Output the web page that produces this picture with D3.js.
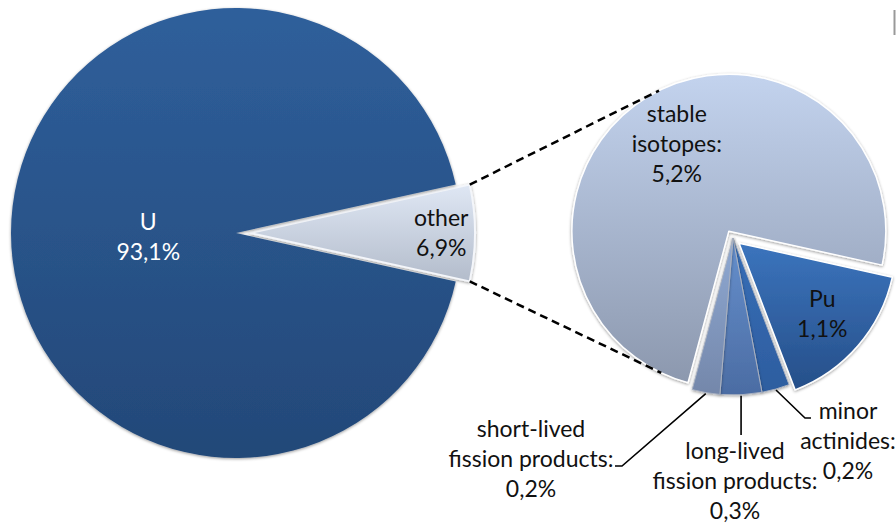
<!DOCTYPE html>
<meta charset="utf-8">
<style>
  body { margin: 0; background: #fff; }
  svg text { font-family: Lato, "Open Sans", sans-serif; font-size: 23px; }
</style>
<body>
<div id="chart"></div>
<script src="https://cdnjs.cloudflare.com/ajax/libs/d3/7.8.5/d3.min.js"></script>
<script>
// ——— data ———
const mainNames  = ["other", "U"];
const mainValues = [6.9, 93.1];
const mainLines  = [["other"], ["U"]];

const subNames  = ["Pu", "minor actinides", "long-lived fission products", "short-lived fission products", "stable isotopes"];
const subValues = [1.1, 0.2, 0.3, 0.2, 5.2];
const subLines  = [["Pu"], ["minor", "actinides:"], ["long-lived", "fission products:"], ["short-lived", "fission products:"], ["stable", "isotopes:"]];

// gradient colours (top, bottom) per slice
const mainColors = [["#dfe7f4", "#b3bccb"], ["#2f5f9b", "#234878"]];
const subColors  = [["#3b74bd", "#264f89"], ["#386fb8", "#2d5d9f"], ["#6690cd", "#4b6ca3"], ["#8fa9d3", "#7487aa"], ["#c3d3ee", "#8c98ae"]];

// ——— layout ———
const W = 896, H = 523;
const main = { cx: 236, cy: 233, r: 225, explode: 14 };
const sub  = { cx: 733, cy: 238, r: 157, explode: 8, start: 102.5 * Math.PI / 180 };
const lineH = 30;

// inner labels: fraction of radius along bisector
const innerLabel = {
  "U":               { f: 0.39, dy: 4,  color: "#fff" },
  "other":           { f: 0.85, dy: 0,  color: "#111" },
  "Pu":              { f: 0.70, dy: 0,  color: "#111" },
  "stable isotopes": { f: 0.64, dy: 0,  color: "#111" }
};
// outside labels: leader elbow / end, text centre x and first baseline
const outerLabel = {
  "short-lived fission products": { elbow: [622, 466], end: [615, 466], tx: 531, ty: 437 },
  "long-lived fission products":  { elbow: null, endY: 435, tx: 735, ty: 459 },
  "minor actinides":              { elbow: [805, 418], end: [811, 418], tx: 848, ty: 419 }
};

const locale = d3.formatLocale({ decimal: ",", thousands: ".", grouping: [3], currency: ["", "€"] });
const pct = v => locale.format(".1f")(v) + "%";

const svg = d3.select("#chart").append("svg")
    .attr("width", W)
    .attr("height", H);

const defs = svg.append("defs");
defs.append("filter")
    .attr("id", "shadow")
    .attr("filterUnits", "userSpaceOnUse")
    .attr("x", -W).attr("y", -H).attr("width", 3 * W).attr("height", 3 * H)
  .append("feDropShadow")
    .attr("dx", 0).attr("dy", 1)
    .attr("stdDeviation", 1.6)
    .attr("flood-color", "#000")
    .attr("flood-opacity", 0.4);

function gradient(id, c) {
  const g = defs.append("linearGradient")
      .attr("id", id)
      .attr("x1", 0).attr("y1", 0).attr("x2", 0).attr("y2", 1);
  g.append("stop").attr("offset", "0%").attr("stop-color", c[0]);
  g.append("stop").attr("offset", "100%").attr("stop-color", c[1]);
}
mainColors.forEach((c, i) => gradient("gm" + i, c));
subColors.forEach((c, i) => gradient("gs" + i, c));

// ——— primary pie ———
const otherSpan = mainValues[0] / d3.sum(mainValues) * 2 * Math.PI;
const pieMain = d3.pie().sort(null).value(d => d)
    .startAngle(Math.PI / 2 - otherSpan / 2)
    .endAngle(Math.PI / 2 - otherSpan / 2 + 2 * Math.PI);
const arcsMain = pieMain(mainValues);
const arcMain = d3.arc().innerRadius(0).outerRadius(main.r);

const mid = a => (a.startAngle + a.endAngle) / 2;
const polar = (cx, cy, r, ang) => [cx + r * Math.sin(ang), cy - r * Math.cos(ang)];

// slice centre after exploding
const centreMain = (a, i) => i === 0 ? polar(main.cx, main.cy, main.explode, mid(a)) : [main.cx, main.cy];

const gMain = svg.append("g");
gMain.selectAll("path")
  .data(arcsMain)
  .join("path")
    .attr("transform", (a, i) => `translate(${centreMain(a, i)})`)
    .attr("d", arcMain)
    .attr("fill", (a, i) => `url(#gm${i})`)
    .attr("stroke", (a, i) => i === 0 ? "#f4f6fa" : "none")
    .attr("stroke-width", 2)
    .attr("filter", "url(#shadow)");

// ——— secondary pie ———
const pieSub = d3.pie().sort(null).value(d => d)
    .startAngle(sub.start)
    .endAngle(sub.start + 2 * Math.PI);
const arcsSub = pieSub(subValues);
const arcSub = d3.arc().innerRadius(0).outerRadius(sub.r);
const explodedSub = [0, 4];
const centreSub = (a, i) => explodedSub.includes(i) ? polar(sub.cx, sub.cy, sub.explode, mid(a)) : [sub.cx, sub.cy];

const gSub = svg.append("g");
gSub.selectAll("path")
  .data(arcsSub)
  .join("path")
    .attr("transform", (a, i) => `translate(${centreSub(a, i)})`)
    .attr("d", arcSub)
    .attr("fill", (a, i) => `url(#gs${i})`)
    .attr("stroke", (a, i) => explodedSub.includes(i) ? "#fff" : "#a9b1c0")
    .attr("stroke-width", (a, i) => explodedSub.includes(i) ? 1.5 : 1)
    .attr("stroke-linejoin", "round")
    .attr("filter", "url(#shadow)");

// ——— connector lines (tangent to the stable-isotopes circle) ———
const oc = centreMain(arcsMain[0], 0);
const cornerTop = polar(oc[0], oc[1], main.r, arcsMain[0].startAngle);
const cornerBot = polar(oc[0], oc[1], main.r, arcsMain[0].endAngle);
const sc = centreSub(arcsSub[4], 4);

function tangent(p, c, r, upper) {
  const dx = p[0] - c[0], dy = p[1] - c[1];
  const d = Math.hypot(dx, dy);
  const phi = Math.atan2(dy, dx);
  const a = Math.acos(r / d);
  const cands = [phi + a, phi - a].map(t => [c[0] + r * Math.cos(t), c[1] + r * Math.sin(t)]);
  cands.sort((m, n) => m[1] - n[1]);
  return upper ? cands[0] : cands[1];
}
[[cornerTop, true], [cornerBot, false]].forEach(([p, up]) => {
  const t = tangent(p, sc, sub.r, up);
  svg.append("line")
      .attr("x1", p[0]).attr("y1", p[1])
      .attr("x2", t[0]).attr("y2", t[1])
      .attr("stroke", "#000")
      .attr("stroke-width", 2.5)
      .attr("stroke-dasharray", "8,5");
});

// ——— labels ———
function block(x, y, lines, color) {
  const t = svg.append("text")
      .attr("text-anchor", "middle")
      .attr("fill", color);
  lines.forEach((s, k) => {
    t.append("tspan").attr("x", x).attr("y", y + k * lineH).text(s);
  });
}

arcsMain.forEach((a, i) => {
  const L = innerLabel[mainNames[i]];
  const c = centreMain(a, i);
  const p = polar(c[0], c[1], L.f * main.r, mid(a));
  const lines = mainLines[i].concat(pct(mainValues[i]));
  block(p[0], p[1] - (lines.length - 1) * lineH / 2 + 8 + L.dy, lines, L.color);
});

arcsSub.forEach((a, i) => {
  const name = subNames[i];
  const lines = subLines[i].concat(pct(subValues[i]));
  if (innerLabel[name]) {
    const L = innerLabel[name];
    const c = centreSub(a, i);
    const p = polar(c[0], c[1], L.f * sub.r, mid(a));
    block(p[0], p[1] - (lines.length - 1) * lineH / 2 + 7 + L.dy, lines, L.color);
    return;
  }
  const L = outerLabel[name];
  const s = polar(sub.cx, sub.cy, sub.r + 1, mid(a));
  const pts = L.elbow ? [s, L.elbow, L.end] : [s, [s[0], L.endY]];
  svg.append("path")
      .attr("d", d3.line()(pts))
      .attr("fill", "none")
      .attr("stroke", "#000")
      .attr("stroke-width", 1.6);
  block(L.tx, L.ty, lines, "#111");
});

// frame edge peeking in at the top right
svg.append("line")
    .attr("x1", W - 1.5).attr("y1", 10)
    .attr("x2", W - 1.5).attr("y2", 35)
    .attr("stroke", "#999")
    .attr("stroke-width", 2);
</script>
</body>
